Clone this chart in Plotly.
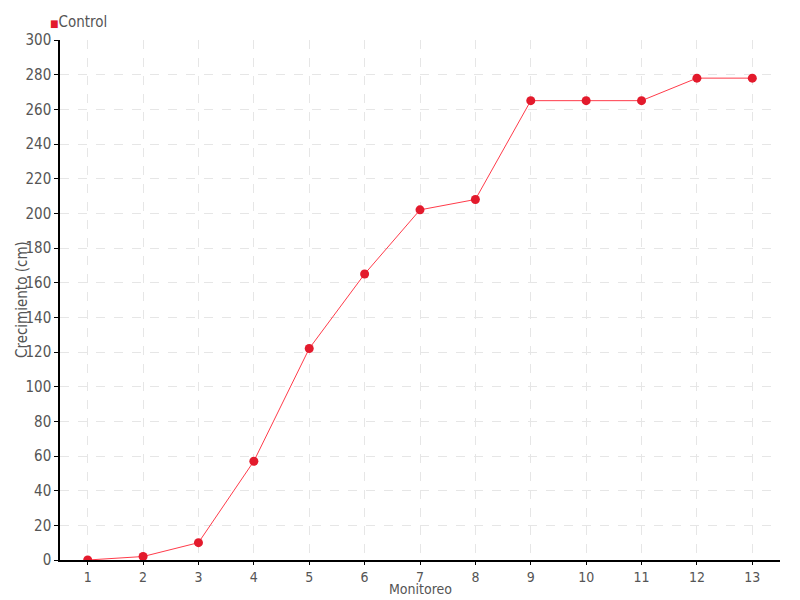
import plotly.graph_objects as go

monitoreo = list(range(1, 14))
control = [0, 2, 10, 57, 122, 165, 202, 208, 265, 265, 265, 278, 278]
y_ticks = list(range(0, 301, 20))
series_name = "Control"
x_title = "Monitoreo"
y_title = "Crecimiento (cm)"

FONT = "Liberation Sans Narrow, DejaVu Sans Condensed, sans-serif"
RED = "#e31a2c"
GRAY = "#555555"

fig = go.Figure()
fig.add_trace(go.Scatter(
    x=monitoreo, y=control, mode="lines+markers", name=series_name,
    line=dict(color="#ff3b4a", width=1),
    marker=dict(color=RED, size=9),
    showlegend=False,
))

fig.add_annotation(
    xref="paper", yref="paper", x=(48 - 60) / 720, y=1 + (40 - 22) / 520,
    xanchor="left", yanchor="middle", showarrow=False,
    text=f"<span style='color:{RED};font-size:10px'>■</span>{series_name}",
    font=dict(family=FONT, size=15, color=GRAY),
)
fig.add_annotation(
    xref="paper", yref="paper", x=(420 - 60) / 720, y=-(599 - 560) / 520,
    xanchor="center", yanchor="bottom", showarrow=False,
    text=x_title, font=dict(family=FONT, size=14, color=GRAY),
)
fig.add_annotation(
    xref="paper", yref="paper", x=-(60 - 22) / 720, y=(560 - 300) / 520,
    xanchor="center", yanchor="middle", showarrow=False, textangle=-90,
    text=y_title, font=dict(family=FONT, size=15, color=GRAY),
)

grid = dict(showgrid=True, gridcolor="#e6e6e6", griddash="dash", gridwidth=1)
fig.update_layout(
    width=800, height=600,
    paper_bgcolor="white", plot_bgcolor="white",
    margin=dict(l=60, r=20, t=40, b=40, autoexpand=False),
    font=dict(family=FONT, size=15, color=GRAY),
    showlegend=False,
    xaxis=dict(range=[0.5, 13.5], tickvals=monitoreo, ticks="outside", ticklen=3,
               tickfont=dict(size=14),
               tickcolor="black", showline=True, linecolor="black", linewidth=1.5,
               zeroline=False, automargin=False, **grid),
    yaxis=dict(range=[0, 300], tickvals=y_ticks, ticks="outside", ticklen=4,
               tickcolor="black", showline=True, linecolor="black", linewidth=1.5,
               zeroline=False, automargin=False, **grid),
)
fig.write_html("out.html", config={"displayModeBar": False},
               post_script="document.body.style.margin='0';document.body.style.overflow='hidden';")
